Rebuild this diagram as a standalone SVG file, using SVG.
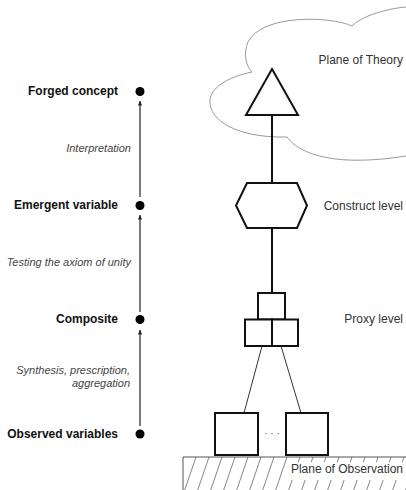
<svg xmlns="http://www.w3.org/2000/svg" width="406" height="490" viewBox="0 0 406 490">
<style>
.lbl{font-family:"Liberation Sans",Arial,sans-serif;font-size:12px;font-weight:bold;fill:#111;text-anchor:end}
.it{font-family:"Liberation Sans",Arial,sans-serif;font-size:11px;font-style:italic;fill:#444;text-anchor:end}
.lvl{font-family:"Liberation Sans",Arial,sans-serif;font-size:12px;fill:#333;text-anchor:end}
.shape{fill:#fff;stroke:#111;stroke-width:2}
.dot{fill:#000}
.ax{stroke:#222;stroke-width:1.2;fill:none}
.link{stroke:#111;stroke-width:2;fill:none}
.thin{stroke:#333;stroke-width:1;fill:none}
.hatch{stroke:#666;stroke-width:0.8}
</style>
<defs>
<marker id="ah" viewBox="0 0 6 6" refX="5.5" refY="3" markerWidth="5" markerHeight="5" orient="auto" markerUnits="userSpaceOnUse">
<path d="M0,0.5 L6,3 L0,5.5 Z" fill="#222"/>
</marker>
<clipPath id="hc"><rect x="183" y="457" width="223" height="33"/></clipPath>
</defs>
<g id="plane-theory">
<path d="M 406,7 C 385,9 362,16 352,26 C 330,16 262,14 248,42 C 243,54 246,66 252,72 C 228,77 208,88 210,104 C 213,125 245,138 287,137 C 298,152 330,168 406,156" fill="none" stroke="#999" stroke-width="1"/>
<text class="lvl" x="403" y="64">Plane of Theory</text>
</g>
<g id="plane-observation">
<g clip-path="url(#hc)" class="hatch">
<line x1="170" y1="495" x2="183" y2="457"/><line x1="183" y1="495" x2="196" y2="457"/><line x1="196" y1="495" x2="209" y2="457"/><line x1="209" y1="495" x2="222" y2="457"/><line x1="222" y1="495" x2="235" y2="457"/><line x1="235" y1="495" x2="248" y2="457"/><line x1="248" y1="495" x2="261" y2="457"/><line x1="261" y1="495" x2="274" y2="457"/><line x1="274" y1="495" x2="287" y2="457"/><line x1="287" y1="495" x2="300" y2="457"/><line x1="300" y1="495" x2="313" y2="457"/><line x1="313" y1="495" x2="326" y2="457"/><line x1="326" y1="495" x2="339" y2="457"/><line x1="339" y1="495" x2="352" y2="457"/><line x1="352" y1="495" x2="365" y2="457"/><line x1="365" y1="495" x2="378" y2="457"/><line x1="378" y1="495" x2="391" y2="457"/><line x1="391" y1="495" x2="404" y2="457"/><line x1="404" y1="495" x2="417" y2="457"/>
</g>
<path d="M183,490 V457 H406" fill="none" stroke="#555" stroke-width="1"/>
<rect x="288" y="462" width="118" height="18" fill="#fff"/>
<text class="lvl" x="403" y="473">Plane of Observation</text>
</g>
<g id="connectors">
<line class="ax" x1="140" y1="197" x2="140" y2="101" marker-end="url(#ah)"/>
<line class="ax" x1="140" y1="312" x2="140" y2="215" marker-end="url(#ah)"/>
<line class="ax" x1="140" y1="426" x2="140" y2="330" marker-end="url(#ah)"/>
<line class="link" x1="272" y1="115" x2="272" y2="183"/>
<line class="link" x1="272" y1="228" x2="272" y2="293"/>
<line class="thin" x1="262" y1="346" x2="244" y2="413"/>
<line class="thin" x1="281" y1="346" x2="301" y2="413"/>
</g>
<g id="forged-concept">
<text class="lbl" x="118" y="95">Forged concept</text>
<circle class="dot" cx="140" cy="91.5" r="4.5"/>
<path class="shape" d="M272,69 L298,115 L246,115 Z"/>
</g>
<g id="emergent-variable">
<text class="lbl" x="118" y="209">Emergent variable</text>
<circle class="dot" cx="140" cy="205.5" r="4.5"/>
<path class="shape" d="M247,183 L297,183 L307,205.5 L297,228 L247,228 L236,205.5 Z"/>
<text class="lvl" x="403" y="210">Construct level</text>
</g>
<g id="composite">
<text class="lbl" x="118" y="323">Composite</text>
<circle class="dot" cx="140" cy="319.5" r="4.5"/>
<rect class="shape" x="258" y="293" width="27" height="26.5"/>
<rect class="shape" x="245" y="319.5" width="27" height="26.5"/>
<rect class="shape" x="272" y="319.5" width="26" height="26.5"/>
<text class="lvl" x="403" y="323">Proxy level</text>
</g>
<g id="observed-variables">
<text class="lbl" x="118" y="438">Observed variables</text>
<circle class="dot" cx="140" cy="434" r="4.5"/>
<rect class="shape" x="215" y="413" width="43" height="42"/>
<rect class="shape" x="286" y="413" width="42" height="42"/>
<text x="272" y="437" font-family="Liberation Sans, Arial, sans-serif" font-size="10" fill="#555" text-anchor="middle">· · ·</text>
</g>
<g id="edge-labels">
<text class="it" x="131" y="152">Interpretation</text>
<text class="it" x="131" y="266">Testing the axiom of unity</text>
<text class="it" x="130" y="374">Synthesis, prescription,</text>
<text class="it" x="130" y="387">aggregation</text>
</g>
</svg>
